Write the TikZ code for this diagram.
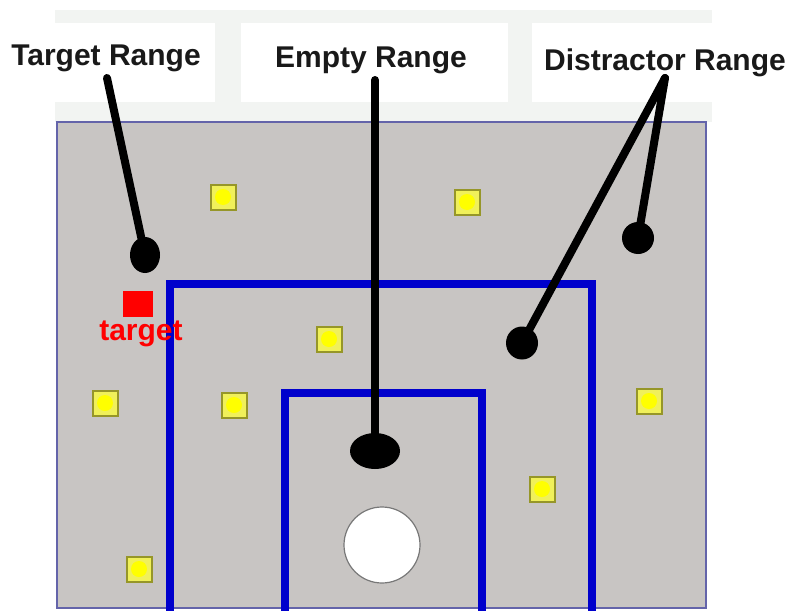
\documentclass[tikz,border=0pt]{standalone}
\usepackage{fontspec}
\setmainfont{Liberation Sans}
\usetikzlibrary{shapes.geometric}
\definecolor{bandgray}{RGB}{242,244,242}
\definecolor{panelgray}{RGB}{200,197,195}
\definecolor{panelborder}{RGB}{100,100,170}
\definecolor{rangeblue}{RGB}{0,0,204}
\definecolor{olivebox}{RGB}{150,150,40}
\definecolor{lightyel}{RGB}{240,240,90}
\definecolor{brightyel}{RGB}{255,255,0}
\definecolor{ringgray}{RGB}{120,120,120}
\begin{document}
\begin{tikzpicture}[x=1pt,y=-1pt,
  lab/.style={font=\bfseries\fontsize{30}{32}\selectfont, inner sep=0pt, text=black!90},
  blob/.style={ellipse, fill=black, inner sep=0pt},
  stick/.style={line width=8pt, line cap=round, black},
  rangeline/.style={line width=8pt, rangeblue, line join=miter},
  ybox/.style={draw=olivebox, line width=2pt, fill=lightyel, minimum width=25pt, minimum height=25pt, inner sep=0pt,
    path picture={\fill[brightyel] (path picture bounding box.center) circle (8pt);}}]
\useasboundingbox (0,0) rectangle (789,610);
% top band and label boxes
\fill[bandgray] (55,10) rectangle (712,122);
\fill[white] (55,23) rectangle (215,102);
\fill[white] (241,23) rectangle (508,102);
\fill[white] (532,23) rectangle (789,102);
% main panel
\draw[panelborder, line width=2pt, fill=panelgray] (57,122) rectangle (706,608);
% range borders
\draw[rangeline] (170,612) -- (170,284) -- (592,284) -- (592,612);
\draw[rangeline] (285,612) -- (285,393) -- (482,393) -- (482,612);
% distractors
\node[ybox] (y1) at (223,197) {};
\node[ybox] (y2) at (467,202) {};
\node[ybox] (y3) at (329,339) {};
\node[ybox] (y4) at (105,403) {};
\node[ybox] (y5) at (234,405) {};
\node[ybox] (y6) at (649,401) {};
\node[ybox] (y7) at (542,489) {};
\node[ybox] (y8) at (139,569) {};
% target
\node[fill=red, minimum width=30pt, minimum height=26pt, inner sep=0pt] (tsq) at (138,304) {};
\node[text=red, font=\bfseries\fontsize{30}{32}\selectfont, inner sep=0pt] (tlabel) at (141,334) {target};
% white disc
\node[circle, draw=ringgray, line width=1.2pt, fill=white, minimum size=76pt, inner sep=0pt] (disc) at (382,545) {};
% labels
\node[lab] (tlab) at (106,58) {Target Range};
\node[lab] (elab) at (371,60) {Empty Range};
\node[lab] (dlab) at (665,63) {Distractor Range};
% blobs
\node[blob, minimum width=30pt, minimum height=36pt] (tb) at (145,255) {};
\node[blob, minimum width=50pt, minimum height=36pt] (eb) at (375,451) {};
\node[blob, minimum width=32pt, minimum height=32pt] (db1) at (638,238) {};
\node[blob, minimum width=32pt, minimum height=33pt] (db2) at (522,343) {};
% connectors
\coordinate (ts) at (107,78);
\coordinate (es) at (375,80);
\coordinate (ds) at (665,78);
\draw[stick] (ts) -- (tb.center);
\draw[stick] (es) -- (eb.center);
\draw[stick] (ds) -- (db1.center);
\draw[stick] (ds) -- (db2.center);
\end{tikzpicture}
\end{document}
